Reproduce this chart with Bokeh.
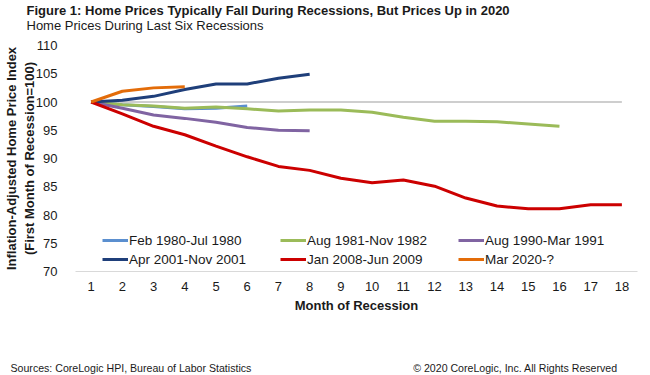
from bokeh.plotting import figure
from bokeh.models import (FixedTicker, Legend, LegendItem, Title, Range1d)
from bokeh.embed import file_html
from bokeh.resources import INLINE

months = list(range(1, 19))

series_names = ["Feb 1980-Jul 1980", "Aug 1981-Nov 1982", "Aug 1990-Mar 1991",
                "Apr 2001-Nov 2001", "Jan 2008-Jun 2009", "Mar 2020-?"]

feb1980 = [100, 99.5, 99.2, 98.8, 98.9, 99.3]
aug1981 = [100, 99.5, 99.3, 98.9, 99.1, 98.8, 98.4, 98.6, 98.6, 98.2, 97.3, 96.6, 96.6, 96.5, 96.1, 95.7]
aug1990 = [100, 98.9, 97.7, 97.1, 96.4, 95.5, 95.0, 94.9]
apr2001 = [100, 100.3, 101.0, 102.2, 103.2, 103.2, 104.2, 104.9]
jan2008 = [100, 97.9, 95.7, 94.2, 92.2, 90.3, 88.6, 87.9, 86.5, 85.7, 86.2, 85.1, 83.0, 81.6, 81.1, 81.1, 81.8, 81.8]
mar2020 = [100, 101.9, 102.5, 102.7]
baseline = [100] * 18

y_ticks = [70, 75, 80, 85, 90, 95, 100, 105, 110]

colors = ["#5B8FCF", "#9BBB59", "#8064A2", "#1F3F7A", "#CC0000", "#E36C09"]

FONT = "Liberation Sans"
TXT = "#1a1a1a"

p = figure(width=None, height=None, frame_width=562, frame_height=226,
           output_backend="svg", toolbar_location=None,
           x_range=Range1d(0.5, 18.5), y_range=Range1d(70, 110),
           min_border_left=75, min_border_right=13, min_border_top=45, min_border_bottom=104)
p.outline_line_color = None
p.grid.visible = False

p.line(months, baseline, line_color="#BFBFBF", line_width=1.5)

data = [feb1980, aug1981, aug1990, apr2001, jan2008, mar2020]
renderers = []
for vals, c in zip(data, colors):
    r = p.line(months[:len(vals)], vals, line_color=c, line_width=3)
    renderers.append(r)

p.xaxis.ticker = FixedTicker(ticks=months)
p.yaxis.ticker = FixedTicker(ticks=y_ticks)
for ax in (p.xaxis[0], p.yaxis[0]):
    ax.major_tick_line_color = None
    ax.minor_tick_line_color = None
    ax.major_label_text_font = FONT
    ax.major_label_text_font_size = "13px"
    ax.major_label_text_color = TXT
    ax.axis_label_text_font = FONT
    ax.axis_label_text_font_size = "13px"
    ax.axis_label_text_font_style = "bold"
    ax.axis_label_text_color = TXT
p.yaxis.axis_line_color = None
p.xaxis.axis_line_color = "#D9D9D9"
p.xaxis.axis_line_width = 1
p.yaxis.major_label_standoff = 12
p.yaxis.axis_label = "Inflation-Adjusted Home Price Index\n(First Month of Recession=100)"
p.yaxis.axis_label_standoff = -4
p.xaxis.major_label_standoff = 4
p.xaxis.axis_label = "Month of Recession"
p.xaxis.axis_label_standoff = 4

# legend: two rows of three (kept inside the frame, near its bottom)
for idx, yoff in (((0, 1, 2), 22), ((3, 4, 5), 3)):
    lg = Legend(items=[LegendItem(label=series_names[i], renderers=[renderers[i]]) for i in idx],
                orientation="horizontal", location=(27, yoff), padding=0, margin=0, spacing=26,
                glyph_width=26, glyph_height=18, label_height=18, label_width=125,
                label_standoff=1,
                label_text_font=FONT, label_text_font_size="13.5px", label_text_color=TXT,
                border_line_color=None, background_fill_alpha=0)
    p.add_layout(lg, "center")

# spacer then footer below the axis
p.add_layout(Title(text="\u00a0", standoff=41, text_font=FONT, text_font_size="1px"), "below")
gap = "\u00a0" * 55
p.add_layout(Title(text="Sources: CoreLogic HPI,  Bureau of Labor Statistics" + gap +
                   "\u00a9 2020 CoreLogic, Inc. All Rights Reserved",
                   align="left", offset=-65, standoff=0, vertical_align="bottom",
                   text_font=FONT, text_font_size="10.6px", text_font_style="normal",
                   text_color=TXT), "below")

# titles (subtitle closest to the frame)
p.add_layout(Title(text="Home Prices During Last Six Recessions", align="left", offset=-49,
                   standoff=21, vertical_align="top",
                   text_font=FONT, text_font_size="13px", text_font_style="normal",
                   text_color=TXT), "above")
p.add_layout(Title(text="Figure 1: Home Prices Typically Fall During Recessions,  But Prices Up in 2020",
                   align="left", offset=-49, standoff=-21, vertical_align="bottom",
                   text_font=FONT, text_font_size="13px", text_font_style="bold",
                   text_color=TXT), "above")

html = file_html(p, INLINE)
open("out.html", "w").write(html)
